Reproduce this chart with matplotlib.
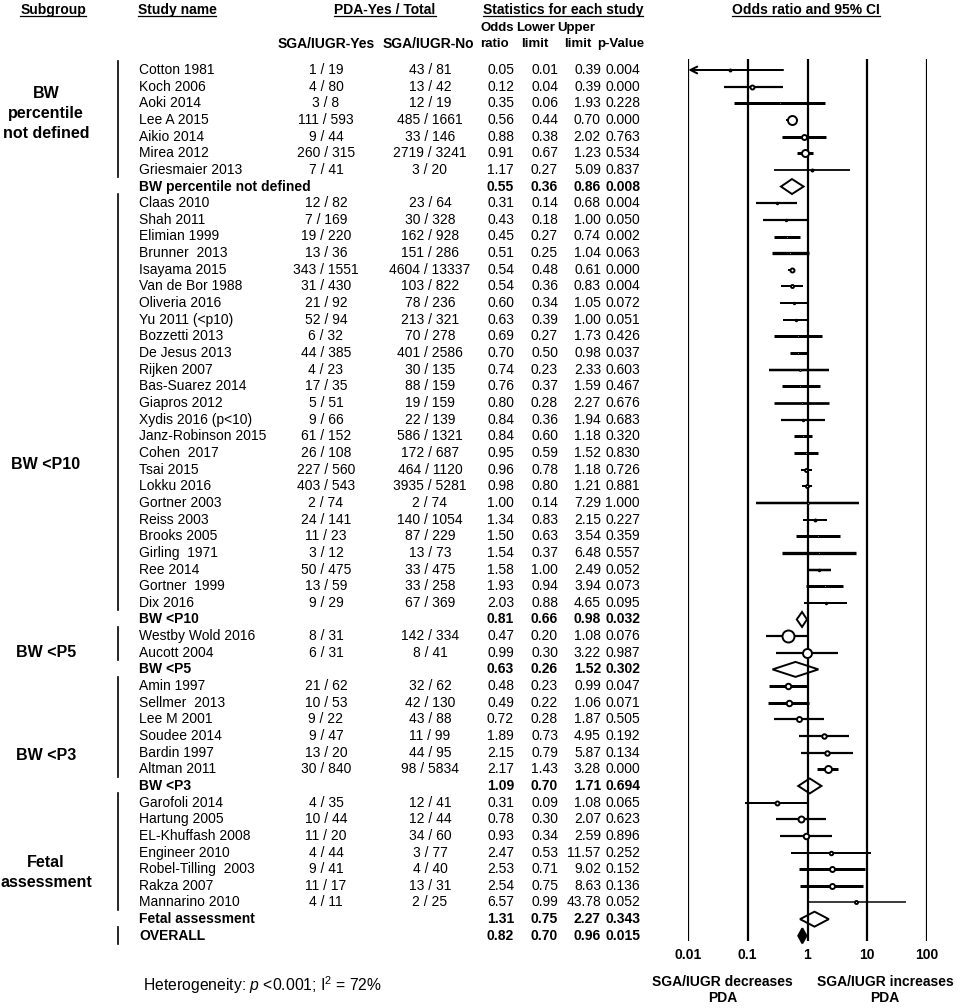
import matplotlib.pyplot as plt
from matplotlib.lines import Line2D

plt.rcParams['font.family'] = ['Liberation Sans', 'DejaVu Sans']
plt.rcParams['font.size'] = 10
plt.rcParams['mathtext.fontset'] = 'custom'
plt.rcParams['mathtext.rm'] = 'Liberation Sans'
plt.rcParams['mathtext.it'] = 'Liberation Sans:italic'

# ---- data ----
group_names = ['BW percentile not defined', 'BW <P10', 'BW <P5', 'BW <P3', 'Fetal assessment']
group_labels = ['BW\npercentile\nnot defined', 'BW <P10', 'BW <P5', 'BW <P3', 'Fetal\nassessment']

study = ['Cotton 1981', 'Koch 2006', 'Aoki 2014', 'Lee A 2015', 'Aikio 2014', 'Mirea 2012', 'Griesmaier 2013',
         'Claas 2010', 'Shah 2011', 'Elimian 1999', 'Brunner  2013', 'Isayama 2015', 'Van de Bor 1988',
         'Oliveria 2016', 'Yu 2011 (<p10)', 'Bozzetti 2013', 'De Jesus 2013', 'Rijken 2007', 'Bas-Suarez 2014',
         'Giapros 2012', 'Xydis 2016 (p<10)', 'Janz-Robinson 2015', 'Cohen  2017', 'Tsai 2015', 'Lokku 2016',
         'Gortner 2003', 'Reiss 2003', 'Brooks 2005', 'Girling  1971', 'Ree 2014', 'Gortner  1999', 'Dix 2016',
         'Westby Wold 2016', 'Aucott 2004',
         'Amin 1997', 'Sellmer  2013', 'Lee M 2001', 'Soudee 2014', 'Bardin 1997', 'Altman 2011',
         'Garofoli 2014', 'Hartung 2005', 'EL-Khuffash 2008', 'Engineer 2010', 'Robel-Tilling  2003',
         'Rakza 2007', 'Mannarino 2010']
group = [0] * 7 + [1] * 25 + [2] * 2 + [3] * 6 + [4] * 7
sga_yes = ['1 / 19', '4 / 80', '3 / 8', '111 / 593', '9 / 44', '260 / 315', '7 / 41',
           '12 / 82', '7 / 169', '19 / 220', '13 / 36', '343 / 1551', '31 / 430', '21 / 92', '52 / 94',
           '6 / 32', '44 / 385', '4 / 23', '17 / 35', '5 / 51', '9 / 66', '61 / 152', '26 / 108',
           '227 / 560', '403 / 543', '2 / 74', '24 / 141', '11 / 23', '3 / 12', '50 / 475', '13 / 59', '9 / 29',
           '8 / 31', '6 / 31',
           '21 / 62', '10 / 53', '9 / 22', '9 / 47', '13 / 20', '30 / 840',
           '4 / 35', '10 / 44', '11 / 20', '4 / 44', '9 / 41', '11 / 17', '4 / 11']
sga_no = ['43 / 81', '13 / 42', '12 / 19', '485 / 1661', '33 / 146', '2719 / 3241', '3 / 20',
          '23 / 64', '30 / 328', '162 / 928', '151 / 286', '4604 / 13337', '103 / 822', '78 / 236',
          '213 / 321', '70 / 278', '401 / 2586', '30 / 135', '88 / 159', '19 / 159', '22 / 139',
          '586 / 1321', '172 / 687', '464 / 1120', '3935 / 5281', '2 / 74', '140 / 1054', '87 / 229',
          '13 / 73', '33 / 475', '33 / 258', '67 / 369',
          '142 / 334', '8 / 41',
          '32 / 62', '42 / 130', '43 / 88', '11 / 99', '44 / 95', '98 / 5834',
          '12 / 41', '12 / 44', '34 / 60', '3 / 77', '4 / 40', '13 / 31', '2 / 25']
odds = [0.05, 0.12, 0.35, 0.56, 0.88, 0.91, 1.17,
        0.31, 0.43, 0.45, 0.51, 0.54, 0.54, 0.60, 0.63, 0.69, 0.70, 0.74, 0.76, 0.80, 0.84, 0.84, 0.95,
        0.96, 0.98, 1.00, 1.34, 1.50, 1.54, 1.58, 1.93, 2.03,
        0.47, 0.99,
        0.48, 0.49, 0.72, 1.89, 2.15, 2.17,
        0.31, 0.78, 0.93, 2.47, 2.53, 2.54, 6.57]
lower = [0.01, 0.04, 0.06, 0.44, 0.38, 0.67, 0.27,
         0.14, 0.18, 0.27, 0.25, 0.48, 0.36, 0.34, 0.39, 0.27, 0.50, 0.23, 0.37, 0.28, 0.36, 0.60, 0.59,
         0.78, 0.80, 0.14, 0.83, 0.63, 0.37, 1.00, 0.94, 0.88,
         0.20, 0.30,
         0.23, 0.22, 0.28, 0.73, 0.79, 1.43,
         0.09, 0.30, 0.34, 0.53, 0.71, 0.75, 0.99]
upper = [0.39, 0.39, 1.93, 0.70, 2.02, 1.23, 5.09,
         0.68, 1.00, 0.74, 1.04, 0.61, 0.83, 1.05, 1.00, 1.73, 0.98, 2.33, 1.59, 2.27, 1.94, 1.18, 1.52,
         1.18, 1.21, 7.29, 2.15, 3.54, 6.48, 2.49, 3.94, 4.65,
         1.08, 3.22,
         0.99, 1.06, 1.87, 4.95, 5.87, 3.28,
         1.08, 2.07, 2.59, 11.57, 9.02, 8.63, 43.78]
pval = [0.004, 0.000, 0.228, 0.000, 0.763, 0.534, 0.837,
        0.004, 0.050, 0.002, 0.063, 0.000, 0.004, 0.072, 0.051, 0.426, 0.037, 0.603, 0.467, 0.676, 0.683,
        0.320, 0.830, 0.726, 0.881, 1.000, 0.227, 0.359, 0.557, 0.052, 0.073, 0.095,
        0.076, 0.987,
        0.047, 0.071, 0.505, 0.192, 0.134, 0.000,
        0.065, 0.623, 0.896, 0.252, 0.152, 0.136, 0.052]

sum_or = [0.55, 0.81, 0.63, 1.09, 1.31]
sum_lo = [0.36, 0.66, 0.26, 0.70, 0.75]
sum_hi = [0.86, 0.98, 1.52, 1.71, 2.27]
sum_p = [0.008, 0.032, 0.302, 0.694, 0.343]

overall = (0.82, 0.70, 0.96, 0.015)
axis_ticks = [0.01, 0.1, 1, 10, 100]

# ---- per-study drawing style seen in the reference (line width px, dot diameter px) ----
ci_px = [2, 2.2, 3, 2, 3, 3, 1.8,
         2.2, 2.2, 3, 3.3, 2, 2, 2, 2, 3, 3, 2.5, 3, 2.7, 2.2, 3, 3, 2, 2, 2.5, 2, 3, 3.3, 2.5, 3, 2,
         2.2, 2.2,
         3, 3, 2.2, 2.2, 2.2, 3,
         2, 2.2, 2.2, 2, 3, 3, 1.5]
dot_px = [2, 4, 1, 9, 5, 7, 2,
          1.5, 1.5, 1, 1, 4, 3, 1.5, 1.5, 1, 1, 1, 1, 1, 1.5, 1, 1, 3, 3, 1, 2, 1, 1, 1.5, 1, 1.5,
          12, 9,
          5.5, 5.5, 5, 4.5, 4.5, 7,
          4, 6, 5.5, 3.5, 5, 5, 3]

PX = 0.72  # points per pixel at dpi 100
ROW0, ROWH = 70.0, 16.65


def row_of(px):
    return (px - ROW0) / ROWH


fig = plt.figure(figsize=(9.57, 10.08), dpi=100)
tax = fig.add_axes([0, 0, 1, 1])
tax.set_xlim(0, 957)
tax.set_ylim(row_of(1008), row_of(0))
tax.axis('off')

fax = fig.add_axes([688 / 957, 0, (927 - 688) / 957, 1])
fax.set_xscale('log')
fax.set_xlim(0.01, 100)
fax.set_ylim(row_of(1008), row_of(0))
fax.axis('off')

# headers
headers = [('Subgroup', 53), ('Study name', 177), ('PDA-Yes / Total', 385),
           ('Statistics for each study', 563), ('Odds ratio and 95% CI', 806)]
head_txt = []
for label, x in headers:
    head_txt.append(tax.text(x, row_of(10), label, ha='center', va='center', fontweight='bold'))
tax.text(326, row_of(44), 'SGA/IUGR-Yes', ha='center', va='center', fontweight='bold')
tax.text(428, row_of(44), 'SGA/IUGR-No', ha='center', va='center', fontweight='bold')
for x, label in [(497, 'Odds'), (536, 'Lower'), (576, 'Upper')]:
    tax.text(x, row_of(28), label, ha='center', va='center', fontweight='bold', fontsize=9.5)
for x, label in [(494, 'ratio'), (535, 'limit'), (578, 'limit'), (621, 'p-Value')]:
    tax.text(x, row_of(44), label, ha='center', va='center', fontweight='bold', fontsize=9.5)

# forest plot reference lines
fax.vlines(axis_ticks, row_of(59), row_of(941), color='black', lw=1.6)
for t in axis_ticks:
    fax.text(t, row_of(955), '%g' % t, ha='center', va='center', fontweight='bold')
fax.text(0.038, row_of(990), 'SGA/IUGR decreases\nPDA', ha='center', va='center',
         fontweight='bold', linespacing=1.2)
fax.text(20, row_of(990), 'SGA/IUGR increases\nPDA', ha='center', va='center',
         fontweight='bold', linespacing=1.2)

label_rows = [2.6, 23.7, 35.0, 41.2, 48.2]


def diamond(ax, y, o, lo, hi, face):
    h = 7.5 / ROWH
    ax.fill([lo, o, hi, o, lo], [y, y - h, y, y + h, y], facecolor=face,
            edgecolor='black', lw=1.4, clip_on=False)


row = 0
for g, gname in enumerate(group_names):
    idx = [i for i, gg in enumerate(group) if gg == g]
    first = row
    for i in idx:
        tax.text(139, row, study[i], ha='left', va='center')
        tax.text(326, row, sga_yes[i], ha='center', va='center')
        tax.text(430, row, sga_no[i], ha='center', va='center')
        tax.text(514, row, '%.2f' % odds[i], ha='right', va='center')
        tax.text(558, row, '%.2f' % lower[i], ha='right', va='center')
        tax.text(601, row, '%.2f' % upper[i], ha='right', va='center')
        tax.text(640, row, '%.3f' % pval[i], ha='right', va='center')
        lw = ci_px[i] * PX
        if lower[i] <= 0.01:
            fax.annotate('', xy=(0.0101, row), xytext=(upper[i], row),
                         arrowprops=dict(arrowstyle='->', lw=lw, color='black',
                                         shrinkA=0, shrinkB=0, mutation_scale=12))
        else:
            fax.plot([lower[i], upper[i]], [row, row], color='black', lw=lw,
                     solid_capstyle='butt')
        fax.plot(odds[i], row, 'o', ms=dot_px[i] * PX, mfc='white', mec='black',
                 mew=1.4)
        row += 1
    last = row - 1
    tax.plot([118, 118], [first - 0.55, last + 0.45], color='black', lw=1.2)
    tax.text(46, label_rows[g], group_labels[g], ha='center', va='center',
             fontweight='bold', fontsize=11.5, linespacing=1.4)
    tax.text(139, row, gname, ha='left', va='center', fontweight='bold')
    for x, v, f in [(514, sum_or[g], '%.2f'), (558, sum_lo[g], '%.2f'),
                    (601, sum_hi[g], '%.2f'), (640, sum_p[g], '%.3f')]:
        tax.text(x, row, f % v, ha='right', va='center', fontweight='bold')
    diamond(fax, row, sum_or[g], sum_lo[g], sum_hi[g], 'white')
    row += 1

# overall
tax.text(139, row, 'OVERALL', ha='left', va='center', fontweight='bold')
for x, v, f in [(514, overall[0], '%.2f'), (558, overall[1], '%.2f'),
                (601, overall[2], '%.2f'), (640, overall[3], '%.3f')]:
    tax.text(x, row, f % v, ha='right', va='center', fontweight='bold')
tax.plot([118, 118], [row - 0.5, row + 0.5], color='black', lw=1.2)
diamond(fax, row, overall[0], overall[1], overall[2], 'black')

tax.text(143, row_of(985), 'Heterogeneity: $p$ <0.001; I$^2$ = 72%', ha='left', va='center',
         fontsize=11.3)

# underline the top headers
fig.canvas.draw()
rend = fig.canvas.get_renderer()
inv = fig.transFigure.inverted()
for t in head_txt:
    bb = t.get_window_extent(rend)
    (x0, y0), (x1, _) = inv.transform([(bb.x0, bb.y0), (bb.x1, bb.y1)])
    fig.add_artist(Line2D([x0, x1], [y0 + 0.0005, y0 + 0.0005], color='black', lw=0.9,
                          transform=fig.transFigure))

fig.savefig('out.png', dpi=100)
